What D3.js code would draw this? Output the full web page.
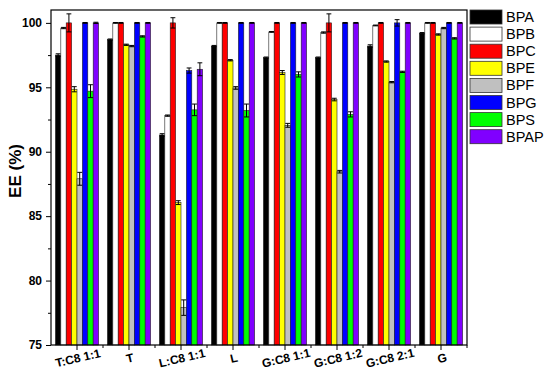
<!DOCTYPE html>
<html>
<head>
<meta charset="utf-8">
<script src="https://cdn.jsdelivr.net/npm/d3@7"></script>
<style>
  body { margin: 0; background: #fff; }
  svg { display: block; font-family: Arial, "Liberation Sans", sans-serif; }
</style>
</head>
<body>
<div id="chart"></div>
<script>
var groups = ["T:C8 1:1", "T", "L:C8 1:1", "L", "G:C8 1:1", "G:C8 1:2", "G:C8 2:1", "G"];
var seriesNames = ["BPA", "BPB", "BPC", "BPE", "BPF", "BPG", "BPS", "BPAP"];
var seriesColors = ["#000000", "#ffffff", "#ff0000", "#ffff00", "#c0c0c0", "#0000ff", "#00ff00", "#8000ff"];

// mean EE (%) per series, one value per group
var BPA  = [97.5, 98.7, 91.3, 98.2, 97.3, 97.3, 98.2, 99.2];
var BPB  = [99.6, 100, 92.8, 100, 99.3, 99.25, 99.8, 100];
var BPC  = [100, 100, 100, 100, 100, 100, 100, 100];
var BPE  = [94.85, 98.3, 86.05, 97.1, 96.15, 94.05, 97.0, 99.1];
var BPF  = [87.9, 98.2, 77.9, 94.95, 92.05, 88.45, 95.4, 99.6];
var BPG  = [100, 100, 96.3, 100, 100, 100, 100, 100];
var BPS  = [94.7, 98.95, 93.25, 93.2, 96.0, 92.9, 96.2, 98.8];
var BPAP = [100, 100, 96.4, 100, 100, 100, 100, 100];

// standard deviations
var errBPA  = [0.1, 0.05, 0.1, 0.05, 0.05, 0.05, 0.1, 0.05];
var errBPB  = [0.05, 0.03, 0.05, 0.03, 0.03, 0.05, 0.03, 0.03];
var errBPC  = [0.7, 0.03, 0.4, 0.03, 0.03, 0.7, 0.03, 0.03];
var errBPE  = [0.2, 0.05, 0.15, 0.05, 0.15, 0.1, 0.05, 0.05];
var errBPF  = [0.5, 0.05, 0.6, 0.1, 0.15, 0.1, 0.05, 0.05];
var errBPG  = [0.03, 0.03, 0.2, 0.03, 0.03, 0.03, 0.25, 0.03];
var errBPS  = [0.5, 0.05, 0.45, 0.5, 0.2, 0.2, 0.05, 0.05];
var errBPAP = [0.05, 0.03, 0.5, 0.03, 0.03, 0.03, 0.03, 0.03];

var values = [BPA, BPB, BPC, BPE, BPF, BPG, BPS, BPAP];
var errors = [errBPA, errBPB, errBPC, errBPE, errBPF, errBPG, errBPS, errBPAP];

var width = 550, height = 374;
var plot = { left: 51, right: 467, top: 10, bottom: 345 };

var svg = d3.select("#chart").append("svg")
    .attr("width", width)
    .attr("height", height);

var x0 = d3.scaleBand()
    .domain(groups)
    .range([plot.left, plot.right])
    .paddingInner(0.17)
    .paddingOuter(0.085);

var x1 = d3.scaleBand()
    .domain(seriesNames)
    .range([0, x0.bandwidth()]);

var y = d3.scaleLinear()
    .domain([75, 101])
    .range([plot.bottom, plot.top]);

var bars = [];
seriesNames.forEach(function(s, si) {
  groups.forEach(function(g, gi) {
    bars.push({ group: g, series: s, color: seriesColors[si], value: values[si][gi], err: errors[si][gi] });
  });
});

var barG = svg.append("g");

barG.selectAll("rect")
  .data(bars)
  .join("rect")
    .attr("x", d => x0(d.group) + x1(d.series))
    .attr("y", d => y(d.value))
    .attr("width", x1.bandwidth())
    .attr("height", d => y(75) - y(d.value))
    .attr("fill", d => d.color)
    .attr("stroke", "#222")
    .attr("stroke-width", 0.6);

// error bars
var errG = svg.append("g")
    .attr("stroke", "#000")
    .attr("stroke-width", 1)
    .attr("fill", "none");

var capW = x1.bandwidth() * 0.9;
errG.selectAll("path")
  .data(bars)
  .join("path")
    .attr("d", function(d) {
      var cx = x0(d.group) + x1(d.series) + x1.bandwidth() / 2;
      var yt = y(d.value + d.err), yb = y(d.value - d.err);
      return "M" + (cx - capW / 2) + "," + yt + "H" + (cx + capW / 2) +
             "M" + (cx - capW / 2) + "," + yb + "H" + (cx + capW / 2) +
             "M" + cx + "," + yt + "V" + yb;
    });

// frame
svg.append("rect")
    .attr("x", plot.left)
    .attr("y", plot.top)
    .attr("width", plot.right - plot.left)
    .attr("height", plot.bottom - plot.top)
    .attr("fill", "none")
    .attr("stroke", "#000")
    .attr("stroke-width", 1.2);

// y axis
var yAxis = svg.append("g")
    .attr("transform", "translate(" + plot.left + ",0)")
    .call(d3.axisLeft(y).tickValues([75, 80, 85, 90, 95, 100]).tickSize(5).tickPadding(4));
yAxis.select(".domain").remove();
yAxis.selectAll("text")
    .attr("font-size", "12px")
    .attr("font-weight", "bold")
    .attr("fill", "#000")
    .attr("font-family", "Arial, 'Liberation Sans', sans-serif");

svg.append("g")
    .attr("transform", "translate(" + plot.left + ",0)")
    .call(d3.axisLeft(y).tickValues(d3.range(77.5, 101, 5)).tickSize(3).tickFormat(""))
    .select(".domain").remove();

// x axis (ticks only, labels drawn separately so they can be tilted)
var xAxis = svg.append("g")
    .attr("transform", "translate(0," + plot.bottom + ")")
    .call(d3.axisBottom(x0).tickSize(5).tickSizeOuter(0).tickFormat(""));
xAxis.select(".domain").remove();

svg.append("g")
  .selectAll("text")
  .data(groups)
  .join("text")
    .attr("transform", d => "translate(" + (x0(d) + x0.bandwidth() / 2 + 1) + "," + (plot.bottom + 13) + ") rotate(-13)")
    .attr("text-anchor", "middle")
    .attr("dy", "0.35em")
    .attr("font-size", "12px")
    .attr("font-weight", "bold")
    .attr("fill", "#000")
    .text(d => d);

// minor x ticks between groups
var step = x0.step();
svg.append("g")
  .selectAll("line")
  .data(groups.slice(1).concat(["end"]))
  .join("line")
    .attr("x1", (d, i) => plot.left + step * (i + 1))
    .attr("x2", (d, i) => plot.left + step * (i + 1))
    .attr("y1", plot.bottom)
    .attr("y2", plot.bottom + 3)
    .attr("stroke", "#000");

// y label
svg.append("text")
    .attr("transform", "translate(21,171) rotate(-90)")
    .attr("text-anchor", "middle")
    .attr("font-size", "17px")
    .attr("font-weight", "bold")
    .text("EE (%)");

// legend
var legend = svg.append("g")
    .attr("transform", "translate(470,10)");

var item = legend.selectAll("g")
  .data(seriesNames)
  .join("g")
    .attr("transform", (d, i) => "translate(0," + i * 17.1 + ")");

item.append("rect")
    .attr("width", 32)
    .attr("height", 14)
    .attr("fill", (d, i) => seriesColors[i])
    .attr("stroke", "#333")
    .attr("stroke-width", 0.8);

item.append("text")
    .attr("x", 36)
    .attr("y", 12)
    .attr("font-size", "14.5px")
    .text(d => d);
</script>
</body>
</html>
